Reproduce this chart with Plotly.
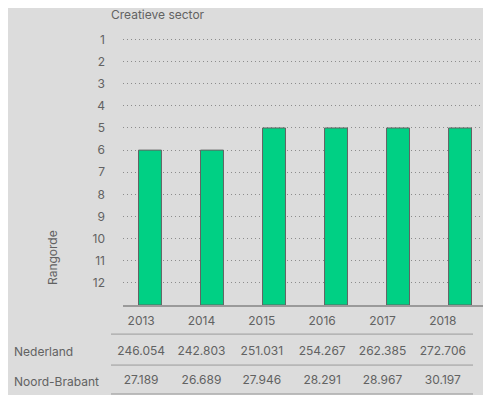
import plotly.graph_objects as go

YEARS = ["2013", "2014", "2015", "2016", "2017", "2018"]
RANKS = [6, 6, 5, 5, 5, 5]
RANK_TICKS = list(range(1, 13))
NEDERLAND = ["246.054", "242.803", "251.031", "254.267", "262.385", "272.706"]
NOORD_BRABANT = ["27.189", "26.689", "27.946", "28.291", "28.967", "30.197"]
ROW_LABELS = ["Nederland", "Noord-Brabant"]

BASE = 13  # onderkant van de staven (rang 13 = as)
BG = "#dcdcdc"
TXT = "#626262"
GREEN = "#00d084"
FONT = "Inter"

# de pagina heeft 8px body-marge; alle maten hieronder in schermpixels
OFF = 8
W, H = 491 - OFF, 395 - OFF
ML, MR, MT, MB = 111 - OFF, 4, 24 - OFF, 0
PW = W - ML - MR
PH = H - MT - MB


def px_x(px):
    return (px - OFF - ML) / PW


def px_y(py):
    return (H - MB - (py - OFF)) / PH


fig = go.Figure()

# staven: rangorde
fig.add_trace(go.Bar(
    x=YEARS, y=[r - BASE for r in RANKS], base=BASE,
    width=0.37,
    marker=dict(color=GREEN, line=dict(color="#636363", width=1)),
    hoverinfo="skip", showlegend=False,
    xaxis="x", yaxis="y",
))

# tabel onder de grafiek
table_rows = [YEARS, NEDERLAND, NOORD_BRABANT]
for row_i, row in enumerate(table_rows):
    fig.add_trace(go.Scatter(
        x=list(range(len(row))), y=[row_i] * len(row),
        mode="text", text=row, textposition="middle center",
        textfont=dict(family=FONT, size=12, color=TXT),
        hoverinfo="skip", showlegend=False,
        xaxis="x2", yaxis="y2",
    ))

for i, lab in enumerate(ROW_LABELS):
    fig.add_annotation(
        text=lab, x=px_x(12), y=i + 1, xref="paper", yref="y2",
        xanchor="left", yanchor="middle", showarrow=False,
        font=dict(family=FONT, size=12, color=TXT),
    )

for yl in [0.41, 1.46, 2.44]:
    fig.add_shape(type="line", xref="x2", yref="y2", x0=-0.5, x1=5.5,
                  y0=yl, y1=yl, line=dict(color="#9a9a9a", width=1))

fig.add_annotation(
    text="Creatieve sector", x=px_x(109), y=px_y(15), xref="paper", yref="paper",
    xanchor="left", yanchor="middle", showarrow=False,
    font=dict(family=FONT, size=12, color=TXT),
)
fig.add_annotation(
    text="Rangorde", x=px_x(52), y=px_y(258), xref="paper", yref="paper",
    textangle=-90, xanchor="center", yanchor="middle", showarrow=False,
    font=dict(family=FONT, size=12, color=TXT),
)

split = px_y(305)
fig.update_layout(
    width=W, height=H,
    margin=dict(l=ML, r=MR, t=MT, b=MB),
    paper_bgcolor=BG, plot_bgcolor=BG,
    font=dict(family=FONT, size=12, color=TXT),
    xaxis=dict(
        domain=[px_x(123), 1], anchor="y", type="category",
        range=[-0.435, 5.435], showticklabels=False, ticks="",
        showgrid=False, zeroline=False,
        showline=True, linecolor="#9a9a9a", linewidth=2,
    ),
    yaxis=dict(
        domain=[split, 1], anchor="x", range=[BASE, 0.3],
        tickvals=RANK_TICKS, ticks="", ticklabelstandoff=17,
        showgrid=True, gridcolor="#8c8c8c", griddash="1px,3px", gridwidth=1,
        zeroline=False, showline=False,
        tickfont=dict(family=FONT, size=12, color=TXT),
    ),
    xaxis2=dict(
        domain=[0, px_x(473)], anchor="y2", range=[-0.5, 5.5],
        visible=False,
    ),
    yaxis2=dict(
        domain=[0, split], anchor="x2",
        range=[(395 - 322) / 29.5, -17 / 29.5],
        visible=False,
    ),
)

fig.write_html("out.html")
